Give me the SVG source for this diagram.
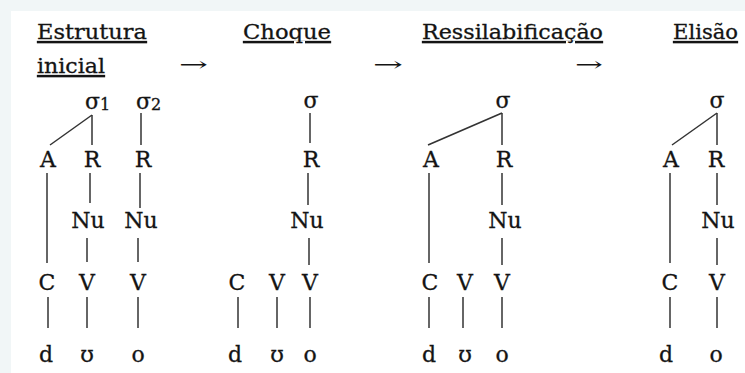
<svg xmlns="http://www.w3.org/2000/svg" width="745" height="373" viewBox="0 0 745 373">
<style>
text{font-family:"DejaVu Serif","Liberation Serif",serif;fill:#141414;stroke:#141414;stroke-width:0.3;}
.t{font-size:21px;text-decoration:underline;}
.n{font-size:22px;text-anchor:middle;}
.a{font-size:20px;stroke-width:0;}
.s{font-size:22px;}
.sub{font-size:16px;}
#connectors line{stroke:#333;stroke-width:1.5;}
</style>
<rect x="0" y="0" width="745" height="373" fill="#f1f6f7"/>
<rect x="11" y="11" width="734" height="362" fill="#ffffff"/>
<g id="titles">
<text class="t" x="37" y="39" textLength="110" lengthAdjust="spacingAndGlyphs">Estrutura</text>
<text class="t" x="37" y="73" textLength="68" lengthAdjust="spacingAndGlyphs">inicial</text>
<text class="t" x="243" y="39" textLength="88" lengthAdjust="spacingAndGlyphs">Choque</text>
<text class="t" x="422" y="39" textLength="181" lengthAdjust="spacingAndGlyphs">Ressilabificação</text>
<text class="t" x="673" y="39" textLength="65" lengthAdjust="spacingAndGlyphs">Elisão</text>
</g>
<g id="arrows">
<text class="a" x="179" y="71" textLength="29" lengthAdjust="spacingAndGlyphs">→</text>
<text class="a" x="373" y="71" textLength="30" lengthAdjust="spacingAndGlyphs">→</text>
<text class="a" x="575" y="71" textLength="28" lengthAdjust="spacingAndGlyphs">→</text>
</g>
<g id="connectors">
<line x1="92" y1="115" x2="50" y2="145"/>
<line x1="92" y1="115" x2="92" y2="145"/>
<line x1="141" y1="113" x2="141" y2="145"/>
<line x1="47" y1="173" x2="47" y2="263"/>
<line x1="90" y1="173" x2="90" y2="203"/>
<line x1="140" y1="173" x2="140" y2="208"/>
<line x1="87" y1="238" x2="87" y2="262"/>
<line x1="138" y1="238" x2="138" y2="262"/>
<line x1="48" y1="297" x2="48" y2="328"/>
<line x1="87" y1="297" x2="87" y2="328"/>
<line x1="138" y1="297" x2="138" y2="328"/>
<line x1="310" y1="113" x2="310" y2="143"/>
<line x1="308" y1="173" x2="308" y2="205"/>
<line x1="309" y1="238" x2="309" y2="265"/>
<line x1="238" y1="297" x2="238" y2="328"/>
<line x1="277" y1="297" x2="277" y2="328"/>
<line x1="310" y1="297" x2="310" y2="328"/>
<line x1="502" y1="113" x2="428" y2="145"/>
<line x1="502" y1="113" x2="502" y2="145"/>
<line x1="429" y1="173" x2="429" y2="263"/>
<line x1="502" y1="173" x2="502" y2="205"/>
<line x1="502" y1="238" x2="502" y2="265"/>
<line x1="429" y1="297" x2="429" y2="328"/>
<line x1="463" y1="297" x2="463" y2="328"/>
<line x1="502" y1="297" x2="502" y2="328"/>
<line x1="717" y1="113" x2="672" y2="145"/>
<line x1="717" y1="113" x2="717" y2="145"/>
<line x1="670" y1="173" x2="670" y2="263"/>
<line x1="717" y1="173" x2="717" y2="205"/>
<line x1="717" y1="238" x2="717" y2="265"/>
<line x1="670" y1="297" x2="670" y2="328"/>
<line x1="717" y1="297" x2="717" y2="328"/>
</g>
<g id="tree1">
<g id="t1-sigma1"><text class="s" x="85" y="109">σ<tspan class="sub" dy="1">1</tspan></text></g>
<g id="t1-sigma2"><text class="s" x="136" y="109">σ<tspan class="sub" dy="1">2</tspan></text></g>
<g id="t1-A"><text class="n" x="48" y="167">A</text></g>
<g id="t1-R1"><text class="n" x="92" y="167">R</text></g>
<g id="t1-R2"><text class="n" x="143" y="167">R</text></g>
<g id="t1-Nu1"><text class="n" x="88" y="228">Nu</text></g>
<g id="t1-Nu2"><text class="n" x="141" y="228">Nu</text></g>
<g id="t1-C"><text class="n" x="47" y="290">C</text></g>
<g id="t1-V1"><text class="n" x="87" y="290">V</text></g>
<g id="t1-V2"><text class="n" x="138" y="290">V</text></g>
<g id="t1-d"><text class="n" x="46" y="362">d</text></g>
<g id="t1-u"><text class="n" x="87" y="362">ʊ</text></g>
<g id="t1-o"><text class="n" x="138" y="362">o</text></g>
</g>
<g id="tree2">
<g id="t2-sigma"><text class="n" x="311" y="108">σ</text></g>
<g id="t2-R"><text class="n" x="311" y="167">R</text></g>
<g id="t2-Nu"><text class="n" x="307" y="228">Nu</text></g>
<g id="t2-C"><text class="n" x="237" y="290">C</text></g>
<g id="t2-V1"><text class="n" x="277" y="290">V</text></g>
<g id="t2-V2"><text class="n" x="310" y="290">V</text></g>
<g id="t2-d"><text class="n" x="235" y="362">d</text></g>
<g id="t2-u"><text class="n" x="277" y="362">ʊ</text></g>
<g id="t2-o"><text class="n" x="310" y="362">o</text></g>
</g>
<g id="tree3">
<g id="t3-sigma"><text class="n" x="503" y="108">σ</text></g>
<g id="t3-A"><text class="n" x="431" y="167">A</text></g>
<g id="t3-R"><text class="n" x="504" y="167">R</text></g>
<g id="t3-Nu"><text class="n" x="505" y="228">Nu</text></g>
<g id="t3-C"><text class="n" x="430" y="290">C</text></g>
<g id="t3-V1"><text class="n" x="465" y="290">V</text></g>
<g id="t3-V2"><text class="n" x="502" y="290">V</text></g>
<g id="t3-d"><text class="n" x="429" y="362">d</text></g>
<g id="t3-u"><text class="n" x="465" y="362">ʊ</text></g>
<g id="t3-o"><text class="n" x="502" y="362">o</text></g>
</g>
<g id="tree4">
<g id="t4-sigma"><text class="n" x="717" y="108">σ</text></g>
<g id="t4-A"><text class="n" x="671" y="167">A</text></g>
<g id="t4-R"><text class="n" x="716" y="167">R</text></g>
<g id="t4-Nu"><text class="n" x="718" y="228">Nu</text></g>
<g id="t4-C"><text class="n" x="670" y="290">C</text></g>
<g id="t4-V"><text class="n" x="717" y="290">V</text></g>
<g id="t4-d"><text class="n" x="666" y="362">d</text></g>
<g id="t4-o"><text class="n" x="716" y="362">o</text></g>
</g>
</svg>
